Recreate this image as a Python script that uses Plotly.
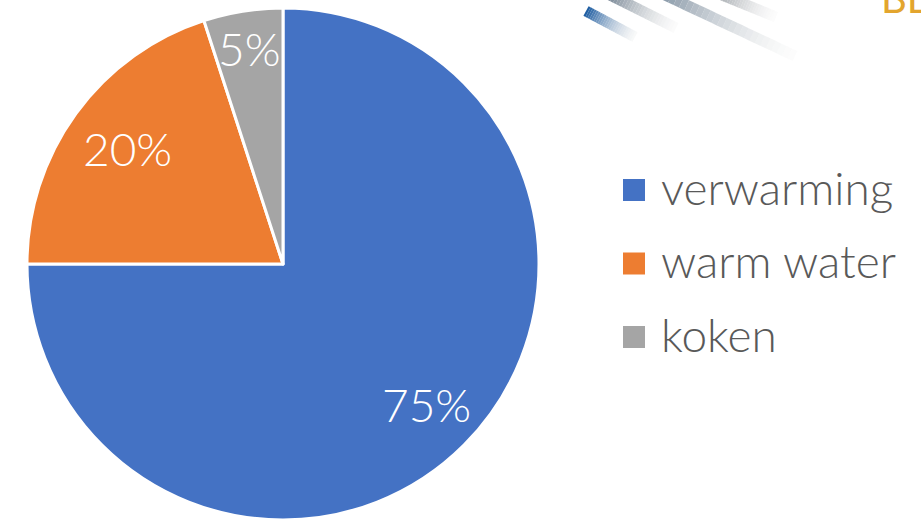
import math
import plotly.graph_objects as go

labels = ["verwarming", "warm water", "koken"]
values = [75, 20, 5]
colors = ["#4472C4", "#ED7D31", "#A5A5A5"]

W, H = 921, 520
CX, CY, R = 283, 264, 256          # pie centre / radius in pixels (from top-left)
LABEL_R = [0.79, 0.75, 0.84]       # radial position of each percentage label

def px(x):
    return x / W

def py(y):
    return 1 - y / H

fig = go.Figure()
fig.add_trace(go.Pie(
    labels=labels, values=values, sort=False, direction="clockwise", rotation=0,
    marker=dict(colors=colors, line=dict(color="white", width=3)),
    textinfo="none",
    domain=dict(x=[px(CX - 258), px(CX + 258)], y=[py(CY + R), py(CY - R)]),
    hoverinfo="label+percent", showlegend=False,
))

# percentage labels, placed at each slice's mid-angle
total = sum(values)
cum = 0
for v, fr in zip(values, LABEL_R):
    mid = (cum + v / 2) / total * 2 * math.pi
    cum += v
    x = CX + fr * R * math.sin(mid)
    y = CY - fr * R * math.cos(mid)
    fig.add_annotation(text=f"{round(100 * v / total)}%", xref="paper", yref="paper",
                       x=px(x), y=py(y), xanchor="center", yanchor="middle", showarrow=False,
                       yshift=3,
                       font=dict(family="Lato", size=46, color="white", weight=300))

# legend (large square markers)
for i, (lab, col) in enumerate(zip(labels, colors)):
    yc = 190 + 73.5 * i
    fig.add_shape(type="rect", xref="paper", yref="paper",
                  x0=px(623), x1=px(645), y0=py(yc + 11), y1=py(yc - 11),
                  fillcolor=col, line=dict(width=0))
    fig.add_annotation(text=lab, xref="paper", yref="paper", x=px(659), y=py(yc - 3),
                       xanchor="left", yanchor="middle", showarrow=False,
                       font=dict(family="Lato", size=46, color="#595959", weight=300))

# decorative gradient stripes (top right)
def stripe(x0, y0, x1, y1, c0, c1, width, n=24):
    for i in range(n):
        t0, t1 = i / n, (i + 1) / n
        t = (t0 + t1) / 2
        col = tuple(int(c0[k] + (c1[k] - c0[k]) * t) for k in range(3))
        op = 1 - 0.9 * t
        fig.add_shape(type="line", xref="paper", yref="paper",
                      x0=px(x0 + (x1 - x0) * t0), y0=py(y0 + (y1 - y0) * t0),
                      x1=px(x0 + (x1 - x0) * t1), y1=py(y0 + (y1 - y0) * t1),
                      line=dict(color=f"rgba({col[0]},{col[1]},{col[2]},{op:.2f})", width=width))

stripe(586, 11, 635, 37, (25, 90, 160), (200, 205, 210), 11)
stripe(610, -5, 676, 28, (120, 135, 150), (225, 225, 225), 11)
stripe(665, -5, 795, 56, (140, 155, 170), (235, 235, 235), 11)
stripe(722, -5, 776, 17, (170, 175, 180), (235, 235, 235), 11)

fig.add_annotation(text="BE", xref="paper", yref="paper", x=px(879), y=py(24),
                   xanchor="left", yanchor="bottom", showarrow=False,
                   font=dict(family="Lato", size=40, color="#E3A52E", weight=400))

fig.update_layout(
    width=W, height=H, margin=dict(l=0, r=0, t=0, b=0, autoexpand=False),
    paper_bgcolor="white", plot_bgcolor="white",
    showlegend=False,
)
fig.write_html("out.html", config={"displayModeBar": False},
               post_script="document.body.style.margin='0';document.body.style.overflow='hidden';")
